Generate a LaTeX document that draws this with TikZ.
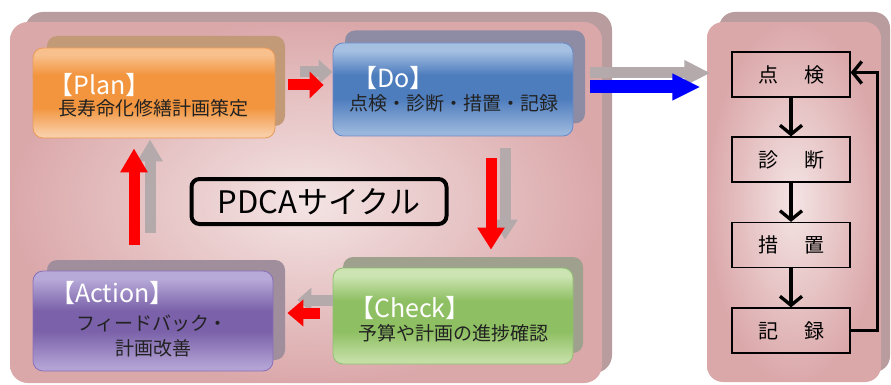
\documentclass[tikz,border=0pt]{standalone}
\usepackage{fontspec}
\setmainfont{Noto Sans CJK JP}
\usetikzlibrary{arrows.meta,calc}
\definecolor{pinkL}{HTML}{F4E4E4}
\definecolor{pinkD}{HTML}{DBA8AA}
\definecolor{panelSh}{HTML}{B89C9E}
\definecolor{txt}{HTML}{222222}
\definecolor{grayArr}{HTML}{B4AAAB}
\definecolor{planSh}{HTML}{C39A78}
\definecolor{doSh}{HTML}{8D8CA4}
\definecolor{actSh}{HTML}{A08E9C}
\definecolor{chkSh}{HTML}{9FA08E}
\definecolor{planT}{HTML}{F8C08C}
\definecolor{planM}{HTML}{F2953E}
\definecolor{planB}{HTML}{F9CDA6}
\definecolor{planE}{HTML}{E89A58}
\definecolor{doT}{HTML}{A6C0E2}
\definecolor{doM}{HTML}{4E7DBE}
\definecolor{doB}{HTML}{9AB6DC}
\definecolor{doE}{HTML}{6A8AC8}
\definecolor{actT}{HTML}{B7A9D8}
\definecolor{actM}{HTML}{7A61A9}
\definecolor{actB}{HTML}{B3A3D4}
\definecolor{actE}{HTML}{8A70B8}
\definecolor{chkT}{HTML}{CCE4B2}
\definecolor{chkM}{HTML}{8EBF62}
\definecolor{chkB}{HTML}{C4DFA6}
\definecolor{chkE}{HTML}{90C070}
\pgfdeclareverticalshading{planshade}{100bp}{color(0bp)=(planB); color(27bp)=(planB); color(42bp)=(planM); color(60bp)=(planM); color(71bp)=(planT); color(75bp)=(planT); color(100bp)=(planT)}
\pgfdeclareverticalshading{doshade}{100bp}{color(0bp)=(doB); color(27bp)=(doB); color(45bp)=(doM); color(58bp)=(doM); color(71bp)=(doT); color(75bp)=(doT); color(100bp)=(doT)}
\pgfdeclareverticalshading{actshade}{100bp}{color(0bp)=(actB); color(27bp)=(actB); color(45bp)=(actM); color(55bp)=(actM); color(71bp)=(actT); color(75bp)=(actT); color(100bp)=(actT)}
\pgfdeclareverticalshading{chkshade}{100bp}{color(0bp)=(chkB); color(27bp)=(chkB); color(42bp)=(chkM); color(58bp)=(chkM); color(71bp)=(chkT); color(75bp)=(chkT); color(100bp)=(chkT)}
\tikzset{
  boxbase/.style={rounded corners=10pt, minimum width=240, minimum height=92, inner sep=0pt},
  hdr/.style={font=\fontsize{25}{27}\selectfont, text=white, anchor=west, inner sep=0pt},
  body/.style={font=\fontsize{19}{21}\selectfont, text=txt, inner sep=0pt},
  redarr/.style={draw=red, line width=11pt, -{Triangle[length=#1,width=26pt]}},
  grayarr/.style={draw=grayArr, line width=11pt, -{Triangle[length=#1,width=24pt]}},
  rbox/.style={draw=black, line width=1.2pt, minimum width=118, minimum height=45, inner sep=0pt, font=\fontsize{20}{22}\selectfont},
  rarr/.style={draw=black, line width=3.3pt, -{Straight Barb[length=9pt,width=22pt]}},
}
\begin{document}
\begin{tikzpicture}[x=1pt,y=-1pt]
\useasboundingbox[fill=white] (0,0) rectangle (891,385);
% left panel
\fill[panelSh, rounded corners=18pt] (25,12) rectangle (612,373);
\shade[rounded corners=18pt, inner color=pinkL, outer color=pinkD] (10,22) rectangle (602,383);
% right panel
\fill[panelSh, rounded corners=16pt] (719,12) rectangle (890,372);
\shade[rounded corners=16pt, inner color=pinkL, outer color=pinkD] (707,22) rectangle (881,382);

% box shadows
\node[boxbase, fill=planSh, minimum width=238, minimum height=90] (plansh) at (166,81) {};
\node[boxbase, fill=doSh, minimum width=240, minimum height=93] (dosh) at (465,77) {};
\node[boxbase, fill=actSh, minimum width=238, minimum height=100] (actsh) at (166,310) {};
\node[boxbase, fill=chkSh, minimum width=240, minimum height=96] (chksh) at (463,305) {};

% boxes
\node[boxbase, draw=planE, line width=0.8pt, shade, shading=planshade, minimum width=242, minimum height=90] (plan) at (154,93) {};
\node[boxbase, draw=doE, line width=0.8pt, shade, shading=doshade, minimum width=240, minimum height=93] (do) at (453,89.5) {};
\node[boxbase, draw=actE, line width=0.8pt, shade, shading=actshade, minimum width=240, minimum height=100] (act) at (153,321) {};
\node[boxbase, draw=chkE, line width=0.8pt, shade, shading=chkshade, minimum width=240, minimum height=96] (chk) at (453,316) {};

% texts
\node[hdr] (planh) at (48,85) {【Plan】};
\node[body] (plant) at (153,108) {長寿命化修繕計画策定};
\node[hdr] (doh) at (352,78) {【Do】};
\node[body] (dot) at (454,103) {点検・診断・措置・記録};
\node[hdr] (acth) at (50,293) {【Action】};
\node[body] (actt1) at (152,323) {フィードバック・};
\node[body] (actt2) at (153,348) {計画改善};
\node[hdr] (chkh) at (349,308) {【Check】};
\node[body] (chkt) at (453,333) {予算や計画の進捗確認};

% PDCA label
\node[draw=black, line width=4pt, rounded corners=8pt, minimum width=255, minimum height=45, inner sep=0pt, font=\fontsize{31}{33}\selectfont] (pdca) at (319,201.5) {PDCAサイクル};

% gray shadow arrows
\draw[grayarr=14pt] ($(plan.east)+(25,-21)$) -- ($(do.west)+(0,-17.5)$);
\draw[grayarr=20pt] ($(do.south)+(52,12)$) -- ($(chk.north)+(52,-28)$);
\draw[grayarr=14pt] ($(chk.west)+(0,-16)$) -- ($(act.east)+(24,-21)$);
\draw[grayarr=22pt] ($(act.north)+(-3,-38)$) -- ($(plan.south)+(-4,1)$);
\draw[grayarr=26pt] ($(do.east)+(17,-16.5)$) -- ($(do.east)+(137,-16.5)$);
% red arrows
\draw[redarr=14pt] ($(plan.east)+(13,-8)$) -- ($(do.west)+(-9,-4.5)$);
\draw[redarr=22pt] ($(do.south)+(38,22)$) -- ($(chk.north)+(38,-18)$);
\draw[redarr=16pt] ($(chk.west)+(-13,-3)$) -- ($(act.east)+(14,-8)$);
\draw[redarr=24pt] ($(act.north)+(-19,-26)$) -- ($(plan.south)+(-20,10)$);
% blue arrow
\draw[draw=blue, line width=13pt, -{Triangle[length=28pt,width=25pt]}] ($(do.east)+(17,-2.5)$) -- ($(do.east)+(127,-2.5)$);

% right flow
\node[rbox] (r1) at (791,74.5) {点\hspace{1.3em}検};
\node[rbox] (r2) at (791,159.5) {診\hspace{1.3em}断};
\node[rbox] (r3) at (791,245) {措\hspace{1.3em}置};
\node[rbox] (r4) at (791,330.5) {記\hspace{1.3em}録};
\draw[rarr] (r1.south) -- (r2.north);
\draw[rarr] (r2.south) -- (r3.north);
\draw[rarr] (r3.south) -- (r4.north);
\draw[rarr] (r4.east) -- ++(27,0) |- ($(r1.east)+(0,-2)$);
\end{tikzpicture}
\end{document}
